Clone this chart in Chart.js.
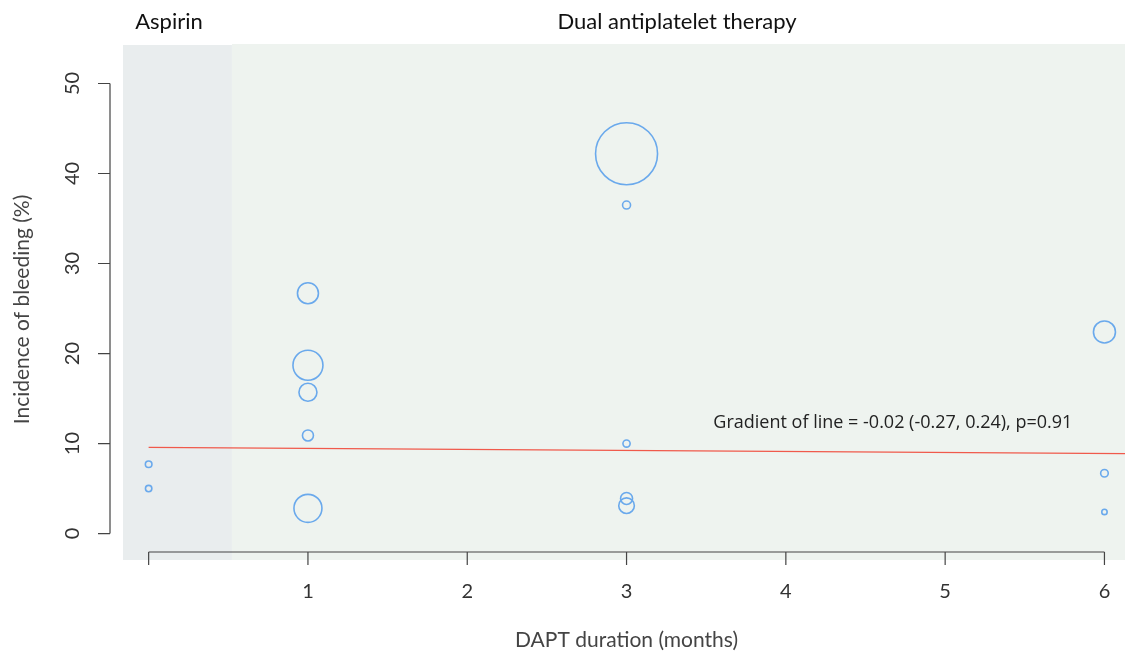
<!DOCTYPE html>
<html>
<head>
<meta charset="utf-8">
<script src="https://cdn.jsdelivr.net/npm/chart.js@4.4.1/dist/chart.umd.min.js"></script>
<style>
  html, body { margin: 0; padding: 0; background: #fff; }
  #wrap { width: 1125px; height: 653px; }
</style>
</head>
<body>
<div id="wrap"><canvas id="bleedChart" width="1125" height="653"></canvas></div>
<script>
// study-level data
const durationMonths = [0, 0, 1, 1, 1, 1, 1, 3, 3, 3, 3, 3, 6, 6, 6];
const bleedingPct    = [7.7, 5.0, 26.7, 18.7, 15.7, 10.9, 2.8, 42.2, 36.5, 10.0, 3.9, 3.1, 22.4, 6.7, 2.4];
const studyWeight    = [3.3, 3.2, 10.5, 15, 9, 5.5, 14, 31, 4, 3.6, 6, 7.8, 11, 3.8, 2.7];

// meta-regression line (start / end)
const fitX = [0, 6.13];
const fitY = [9.58, 8.88];

const xTicks = [0, 1, 2, 3, 4, 5, 6];
const xTickLabels = ['', '1', '2', '3', '4', '5', '6'];
const yTicks = [0, 10, 20, 30, 40, 50];

const panelSplit = 0.523;   // aspirin | DAPT boundary on the x scale
const gradientNote = 'Gradient of line = -0.02 (-0.27, 0.24), p=0.91';

document.addEventListener('DOMContentLoaded', function () {
    const ctx = document.getElementById('bleedChart').getContext('2d');

    const bubbles = durationMonths.map((m, i) => ({ x: m, y: bleedingPct[i], r: studyWeight[i] }));
    const fitLine = fitX.map((v, i) => ({ x: v, y: fitY[i] }));

    // panels, R-style axes and the text around the plot
    const decor = {
        id: 'decor',
        beforeDatasetsDraw(chart) {
            const { ctx, chartArea: a, scales: { x } } = chart;
            const split = x.getPixelForValue(panelSplit);
            ctx.save();
            ctx.fillStyle = '#e9edee';
            ctx.fillRect(a.left, a.top + 1, split - a.left, a.bottom - a.top - 1);
            ctx.fillStyle = '#eef3ef';
            ctx.fillRect(split, a.top, a.right - split, a.bottom - a.top);
            ctx.restore();
        },
        afterDatasetsDraw(chart) {
            const { ctx, chartArea: a, scales: { x, y } } = chart;
            ctx.save();
            ctx.strokeStyle = '#444';
            ctx.lineWidth = 1.2;

            // x axis
            const xa = a.bottom - 8;
            ctx.beginPath();
            ctx.moveTo(x.getPixelForValue(xTicks[0]), xa);
            ctx.lineTo(x.getPixelForValue(xTicks[xTicks.length - 1]), xa);
            xTicks.forEach(t => {
                const px = x.getPixelForValue(t);
                ctx.moveTo(px, xa);
                ctx.lineTo(px, xa + 13);
            });
            ctx.stroke();

            ctx.fillStyle = '#333';
            ctx.font = '20px Lato';
            ctx.textAlign = 'center';
            ctx.textBaseline = 'middle';
            xTicks.forEach((t, i) => ctx.fillText(xTickLabels[i], x.getPixelForValue(t), xa + 40));

            // y axis
            const ya = a.left - 13;
            ctx.beginPath();
            ctx.moveTo(ya, y.getPixelForValue(yTicks[0]));
            ctx.lineTo(ya, y.getPixelForValue(yTicks[yTicks.length - 1]));
            yTicks.forEach(t => {
                const py = y.getPixelForValue(t);
                ctx.moveTo(ya, py);
                ctx.lineTo(ya - 12, py);
            });
            ctx.stroke();

            yTicks.forEach(t => {
                ctx.save();
                ctx.translate(ya - 37, y.getPixelForValue(t));
                ctx.rotate(-Math.PI / 2);
                ctx.fillText(String(t), 0, 0);
                ctx.restore();
            });

            // axis titles
            ctx.fillStyle = '#444';
            ctx.font = '21px Lato';
            ctx.fillText('DAPT duration (months)', x.getPixelForValue(3), 640);
            ctx.save();
            ctx.translate(22, y.getPixelForValue(25) + 1);
            ctx.rotate(-Math.PI / 2);
            ctx.fillText('Incidence of bleeding (%)', 0, 0);
            ctx.restore();

            // panel headers
            ctx.fillStyle = '#111';
            ctx.font = '22px Lato';
            ctx.fillText('Aspirin', 169, 22);
            ctx.fillText('Dual antiplatelet therapy', 677, 22);

            // fit annotation
            ctx.fillStyle = '#222';
            ctx.font = '18px "Open Sans"';
            ctx.textAlign = 'left';
            ctx.fillText(gradientNote, x.getPixelForValue(3.545), y.getPixelForValue(12.3));
            ctx.restore();
        }
    };

    new Chart(ctx, {
        type: 'bubble',
        data: {
            datasets: [{
                type: 'line',
                data: fitLine,
                borderColor: '#f0594b',
                borderWidth: 1.3,
                pointRadius: 0,
                order: 2
            }, {
                data: bubbles,
                backgroundColor: 'rgba(0,0,0,0)',
                borderColor: '#6aa9ec',
                borderWidth: 1.6,
                order: 1
            }]
        },
        options: {
            responsive: false,
            animation: false,
            layout: { autoPadding: false, padding: { left: 123, right: 0, top: 44, bottom: 93 } },
            scales: {
                x: { type: 'linear', min: -0.161, max: 6.129, display: false },
                y: { type: 'linear', min: -2.94, max: 54.39, display: false }
            },
            plugins: {
                legend: { display: false },
                tooltip: { enabled: false }
            }
        },
        plugins: [decor]
    });
});
</script>
</body>
</html>
